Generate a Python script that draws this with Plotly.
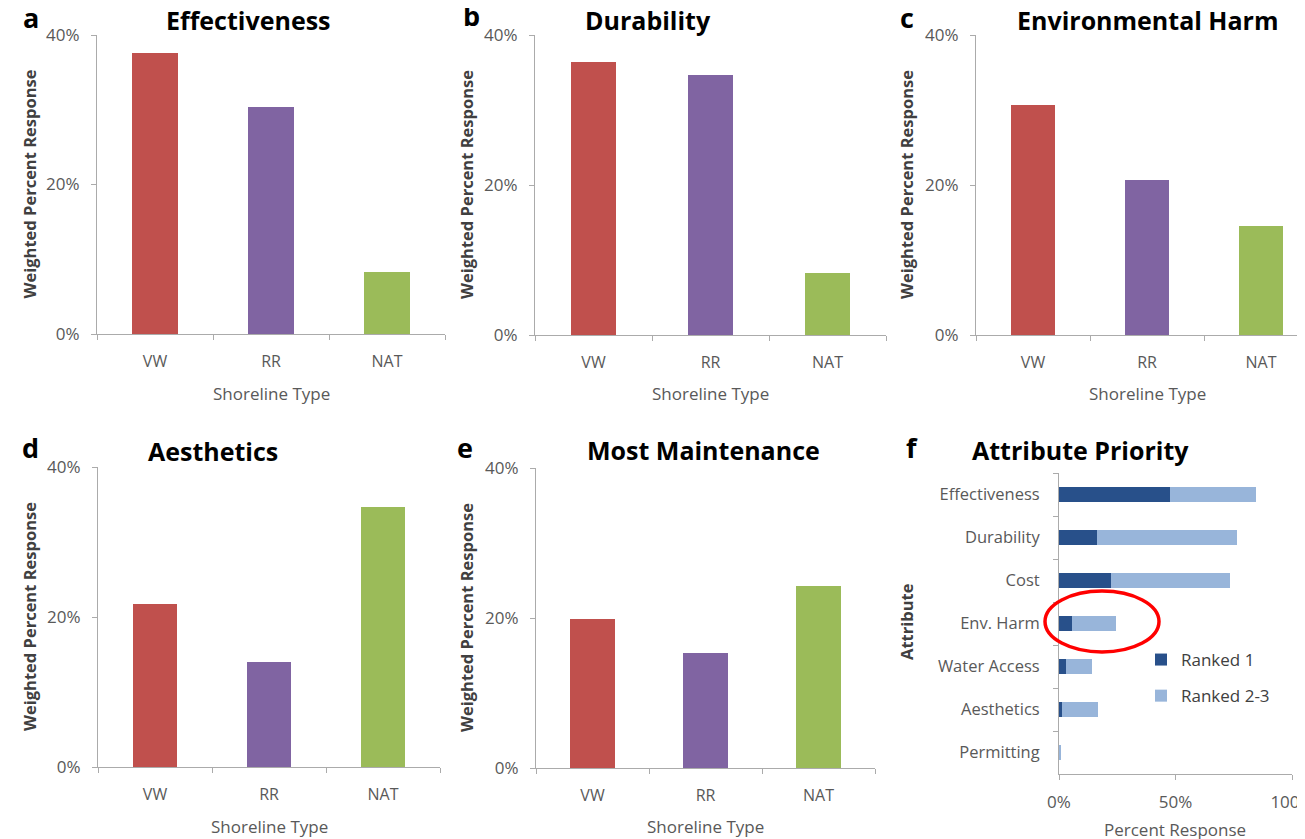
import plotly.graph_objects as go

# The page body adds an 8px margin, so the figure is sized to fit the window exactly
PAGE_W, PAGE_H = 1305, 839
OFF = 8
W, H = PAGE_W - OFF, PAGE_H - OFF

categories = ["VW", "RR", "NAT"]
bar_colors = ["#C0504D", "#8064A2", "#9BBB59"]

effectiveness = [0.376, 0.304, 0.083]
durability = [0.364, 0.347, 0.083]
env_harm = [0.307, 0.207, 0.145]
aesthetics = [0.217, 0.140, 0.347]
maintenance = [0.199, 0.153, 0.243]

attributes = ["Effectiveness", "Durability", "Cost", "Env. Harm",
              "Water Access", "Aesthetics", "Permitting"]
ranked_1 = [0.476, 0.163, 0.223, 0.056, 0.030, 0.013, 0.003]
ranked_2_3 = [0.369, 0.601, 0.511, 0.189, 0.112, 0.154, 0.003]

y_ticks = [0, 0.2, 0.4]
f_ticks = [0, 0.5, 1.0]

FONT = "'Open Sans', Lato, sans-serif"
AXIS_COL = "#ABABAB"
TICK_COL = "#595959"
TITLE_COL = "#404040"


def px_x(v):
    return (v - OFF) / W


def px_y(v):
    return 1 - (v - OFF) / H


def note(text, x, y, size, color, bold=False, angle=0):
    return dict(text=("<b>%s</b>" % text) if bold else text, x=px_x(x), y=px_y(y),
                xref="paper", yref="paper", xanchor="center", yanchor="middle",
                showarrow=False, textangle=angle,
                font=dict(family=FONT, size=size, color=color))


panels = [
    dict(vals=effectiveness, xl=97, cw=116, y0=334, y40=35, title="Effectiveness",
         letter="a", lx=31, ly=17, tx=248, ty=20, xt_y=393, yt_x=29),
    dict(vals=durability, xl=535, cw=117, y0=335, y40=35, title="Durability",
         letter="b", lx=471, ly=16, tx=648, ty=20, xt_y=393, yt_x=466),
    dict(vals=env_harm, xl=976, cw=114, y0=335, y40=35, title="Environmental Harm",
         letter="c", lx=907, ly=17, tx=1148, ty=20, xt_y=393, yt_x=906),
    dict(vals=aesthetics, xl=98, cw=114, y0=767, y40=467, title="Aesthetics",
         letter="d", lx=31, ly=447, tx=213, ty=451, xt_y=826, yt_x=29),
    dict(vals=maintenance, xl=536, cw=113, y0=768, y40=468, title="Most Maintenance",
         letter="e", lx=465, ly=447, tx=703, ty=450, xt_y=826, yt_x=466),
]

fig = go.Figure()
annotations = []
layout = {}

for i, p in enumerate(panels, start=1):
    xr = p["xl"] + 3 * p["cw"]
    range_end = 2.5
    if xr > PAGE_W:
        range_end = 2.5 - (xr - PAGE_W) / p["cw"]
        xr = PAGE_W
    xa = f"xaxis{i}" if i > 1 else "xaxis"
    ya = f"yaxis{i}" if i > 1 else "yaxis"
    xref = f"x{i}" if i > 1 else "x"
    yref = f"y{i}" if i > 1 else "y"
    fig.add_trace(go.Bar(
        x=categories, y=p["vals"], marker=dict(color=bar_colors, line=dict(width=0)),
        width=0.39, xaxis=xref, yaxis=yref, showlegend=False,
        hovertemplate="%{x}: %{y:.1%}<extra></extra>"))
    layout[xa] = dict(
        domain=[px_x(p["xl"]), px_x(xr)], anchor=yref, type="category",
        range=[-0.5, range_end], showline=True, linecolor=AXIS_COL, linewidth=1,
        ticks="outside", tickson="boundaries", ticklen=5, tickcolor=AXIS_COL,
        tickfont=dict(family=FONT, size=16, color=TICK_COL), ticklabelstandoff=13,
        showgrid=False, zeroline=False, fixedrange=True, automargin=False)
    layout[ya] = dict(
        domain=[px_y(p["y0"]), px_y(p["y40"])], anchor=xref, range=[0, 0.4],
        tickvals=y_ticks, tickformat=".0%", showline=True, linecolor=AXIS_COL,
        linewidth=1, ticks="outside", ticklen=5, tickcolor=AXIS_COL,
        tickfont=dict(family=FONT, size=17, color=TICK_COL), ticklabelstandoff=8,
        showgrid=False, zeroline=False, fixedrange=True, automargin=False)
    annotations.append(note(p["letter"], p["lx"], p["ly"], 27, "#000000", bold=True))
    annotations.append(note(p["title"], p["tx"], p["ty"], 25, "#000000", bold=True))
    annotations.append(note("Weighted Percent Response", p["yt_x"],
                            (p["y0"] + p["y40"]) / 2, 16.5, TITLE_COL, bold=True, angle=-90))
    annotations.append(note("Shoreline Type", p["xl"] + 1.5 * p["cw"], p["xt_y"], 17, TICK_COL))

# panel f
fig.add_trace(go.Bar(y=attributes, x=ranked_1, orientation="h", name="Ranked 1",
                     marker=dict(color="#28508A", line=dict(width=0)), width=0.37,
                     xaxis="x6", yaxis="y6", legendgroup="r1",
                     hovertemplate="%{y}: %{x:.1%}<extra>Ranked 1</extra>"))
fig.add_trace(go.Bar(y=attributes, x=ranked_2_3, orientation="h", name="Ranked 2-3",
                     marker=dict(color="#98B5DA", line=dict(width=0)), width=0.37,
                     xaxis="x6", yaxis="y6", legendgroup="r23",
                     hovertemplate="%{y}: %{x:.1%}<extra>Ranked 2-3</extra>"))

layout["xaxis6"] = dict(
    domain=[px_x(1059), px_x(1292)], anchor="y6", range=[0, 1], tickvals=f_ticks,
    tickformat=".0%", showline=True, linecolor=AXIS_COL, ticks="outside", ticklen=5,
    tickcolor=AXIS_COL, tickfont=dict(family=FONT, size=17, color=TICK_COL),
    ticklabelstandoff=8, ticklabeloverflow="allow", showgrid=False, zeroline=False,
    fixedrange=True, automargin=False)
layout["yaxis6"] = dict(
    domain=[px_y(774), px_y(473)], anchor="x6", type="category",
    categoryorder="array", categoryarray=attributes, range=[6.5, -0.5],
    showline=True, linecolor=AXIS_COL, ticks="outside", tickson="boundaries",
    ticklen=5, tickcolor=AXIS_COL, tickfont=dict(family=FONT, size=16.5, color=TICK_COL),
    ticklabelstandoff=15, showgrid=False, zeroline=False, fixedrange=True, automargin=False)

annotations += [
    note("f", 912, 447, 27, "#000000", bold=True),
    note("Attribute Priority", 1080, 450, 25, "#000000", bold=True),
    note("Attribute", 906, 622, 16.5, TITLE_COL, bold=True, angle=-90),
    note("Percent Response", 1175, 829, 17, TICK_COL),
]

shapes = [dict(type="circle", xref="paper", yref="paper",
               x0=px_x(1045), x1=px_x(1159), y0=px_y(652), y1=px_y(591),
               line=dict(color="#FF0000", width=3.5))]

fig.update_layout(
    width=W, height=H, margin=dict(l=0, r=0, t=0, b=0, autoexpand=False),
    paper_bgcolor="white", plot_bgcolor="white", barmode="stack",
    font=dict(family=FONT, size=15, color=TICK_COL),
    annotations=annotations, shapes=shapes,
    legend=dict(x=px_x(1141), y=px_y(642), xanchor="left", yanchor="top",
                bgcolor="rgba(0,0,0,0)", font=dict(family=FONT, size=17, color=TITLE_COL),
                tracegroupgap=11, itemwidth=30),
    **layout)

fig.write_html("out.html")
